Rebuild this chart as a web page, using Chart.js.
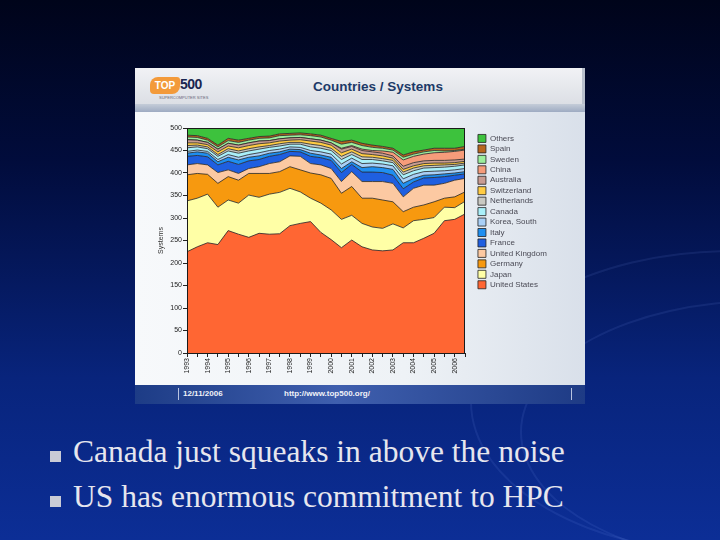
<!DOCTYPE html>
<html>
<head>
<meta charset="utf-8">
<script src="https://cdn.jsdelivr.net/npm/chart.js@4.4.1/dist/chart.umd.min.js"></script>
<style>
  html, body { margin: 0; padding: 0; }
  body {
    width: 720px; height: 540px; overflow: hidden; position: relative;
    background: linear-gradient(180deg, #00041a 0%, #010c3c 30%, #08247c 70%, #0c2e96 100%);
    font-family: "Liberation Sans", Arial, sans-serif;
  }
  .swoosh { position: absolute; border-radius: 50%; border: 2px solid rgba(140,170,255,0.10); }
  #panel {
    position: absolute; left: 135px; top: 68px; width: 450px; height: 336px;
    background: linear-gradient(90deg, #f7f9fb 0%, #eef2f6 60%, #d9e0ea 100%);
    overflow: hidden;
  }
  #head {
    position: absolute; left: 0; top: 0; width: 450px; height: 36px;
    background: linear-gradient(180deg, #f1f2f5 0%, #dcdfe5 100%);
    border-right: 3px solid #b9c0cc; box-sizing: border-box;
  }
  #head .title {
    position: absolute; left: 138px; top: 11px; width: 210px; text-align: center;
    font: bold 13.5px "Liberation Sans", Arial, sans-serif; color: #1d3a68;
  }
  #logo-top {
    position: absolute; left: 15px; top: 9px; width: 30px; height: 17px;
    background: #f39a3a; border-radius: 8px 3px 8px 4px;
    font: bold 10px "Liberation Sans", Arial, sans-serif; color: #fff; text-align: center; line-height: 17px;
  }
  #logo-500 {
    position: absolute; left: 45px; top: 8px;
    font: bold 14px "Liberation Sans", Arial, sans-serif; color: #1a2550; letter-spacing: -0.5px;
  }
  #logo-tag {
    position: absolute; left: 24px; top: 27px; font: 4px "Liberation Sans", Arial, sans-serif; color: #667;
  }
  #stripe {
    position: absolute; left: 0; top: 36px; width: 450px; height: 8px;
    background: linear-gradient(180deg, #c4ccd8 0%, #9eabc2 100%);
  }
  #chart-box { position: absolute; left: 0; top: 44px; width: 450px; height: 273px; }
  #foot {
    position: absolute; left: 0; top: 317px; width: 450px; height: 19px;
    background: linear-gradient(90deg, #1d3c86 0%, #3f5fae 45%, #1e3b85 100%);
    font: bold 8px "Liberation Sans", Arial, sans-serif; color: #f0f2f8;
  }
  #foot span { position: absolute; top: 4px; }
  #foot .bar { position: absolute; top: 3px; width: 1px; height: 12px; background: #b8c4e0; }
  .bullet {
    position: absolute; left: 73px; font: 31.5px "Liberation Serif", "Times New Roman", serif;
    color: #e6e6ee; line-height: 31.5px; white-space: nowrap;
  }
  .sq { position: absolute; left: 50px; width: 11px; height: 11px; background: #c9cbd6; }
</style>
</head>
<body>
<div class="swoosh" style="left:470px; top:250px; width:520px; height:300px;"></div>
<div class="swoosh" style="left:520px; top:300px; width:480px; height:260px;"></div>

<div id="panel">
  <div id="head">
    <div id="logo-top">TOP</div>
    <div id="logo-500">500</div>
    <div id="logo-tag">SUPERCOMPUTER SITES</div>
    <div class="title">Countries / Systems</div>
  </div>
  <div id="stripe"></div>
  <div id="chart-box"><canvas id="chart-paises" width="450" height="273"></canvas></div>
  <div id="foot">
    <div class="bar" style="left:43px"></div>
    <span style="left:48px">12/11/2006</span>
    <span style="left:149px">http://www.top500.org/</span>
    <div class="bar" style="left:436px"></div>
  </div>
</div>

<div class="sq" style="top:451px"></div>
<div class="bullet" style="top:436px">Canada just squeaks in above the noise</div>
<div class="sq" style="top:496px"></div>
<div class="bullet" style="top:481px">US has enormous commitment to HPC</div>

<script>
// Listas: junio y noviembre de cada año, 1993-2006
const periodos = [
  '1993-06','1993-11','1994-06','1994-11','1995-06','1995-11','1996-06','1996-11',
  '1997-06','1997-11','1998-06','1998-11','1999-06','1999-11','2000-06','2000-11',
  '2001-06','2001-11','2002-06','2002-11','2003-06','2003-11','2004-06','2004-11',
  '2005-06','2005-11','2006-06','2006-11'
];
const ticksY = [0, 50, 100, 150, 200, 250, 300, 350, 400, 450, 500];

// Número de sistemas por país
const unitedStates = [225,236,245,241,272,264,257,266,264,265,283,288,292,268,252,234,251,236,229,227,229,245,245,255,266,294,297,309];
const japan        = [113,108,108, 83, 68, 69, 94, 80, 89, 92, 83, 70, 52, 65, 66, 63, 55, 52, 51, 50, 58, 33, 49, 42, 35, 30, 26, 28];
const germany      = [ 58, 55, 44, 53, 52, 51, 48, 53, 46, 46, 48, 49, 56, 63, 70, 58, 64, 56, 64, 63, 49, 36, 30, 32, 35, 20, 24, 21];
const unitedKingdom= [ 22, 22, 21, 24, 15, 15, 11, 15, 22, 22, 24, 30, 21, 22, 22, 26, 33, 37, 37, 41, 41, 33, 42, 44, 37, 33, 37, 30];
const france       = [ 19, 18, 18, 17, 19, 20, 17, 16, 16, 16, 10, 10, 16, 16, 18, 20, 16, 21, 21, 20, 18, 18, 14, 16, 17, 15, 11, 10];
const italy        = [  7,  8,  8,  7,  9, 10,  8,  8,  7,  6,  5,  5,  7,  6,  7,  9,  6, 10, 12, 11, 13, 12,  8,  6,  6,  6,  5,  5];
const koreaSouth   = [  4,  4,  4,  5,  6,  6,  6,  7,  6,  6,  5,  5,  6,  7,  7, 10,  8,  9,  8,  8,  8, 10,  9,  8,  8,  7,  7,  7];
const canada       = [  8,  7,  6,  7,  8,  9,  8,  8,  7,  7,  6,  7,  8,  8,  8, 10,  8,  9,  8,  7,  7,  9,  8,  8,  8,  8,  8,  8];
const netherlands  = [  5,  4,  4,  4,  5,  5,  5,  5,  4,  5,  4,  4,  6,  6,  5,  7,  6,  6,  5,  5,  5,  6,  6,  5,  5,  5,  4,  4];
const switzerland  = [  6,  5,  5,  6,  6,  7,  7,  7,  6,  6,  5,  6,  7,  7,  7,  8,  6,  7,  6,  6,  5,  6,  5,  5,  5,  4,  4,  4];
const australia    = [  7,  6,  5,  6,  6,  6,  6,  6,  5,  5,  5,  5,  5,  5,  5,  8,  6,  7,  6,  6,  5,  7,  7,  6,  6,  6,  6,  5];
const china        = [  0,  0,  0,  0,  0,  0,  0,  0,  0,  0,  0,  0,  0,  0,  0,  2,  2,  3,  3,  5,  8, 14, 14, 15, 17, 18, 19, 20];
const sweden       = [  6,  6,  5,  5,  6,  6,  6,  6,  6,  7,  6,  6,  7,  7,  6,  9,  7,  8,  7,  6,  5,  6,  5,  5,  5,  3,  2,  2];
const spain        = [  4,  4,  4,  4,  5,  5,  4,  4,  4,  4,  4,  4,  4,  4,  4,  6,  5,  5,  5,  4,  4,  5,  5,  4,  5,  6,  5,  6];
const others       = [ 16, 17, 23, 38, 23, 27, 23, 19, 18, 13, 12, 11, 13, 16, 23, 30, 27, 34, 38, 41, 45, 60, 53, 49, 45, 45, 45, 41];

// Series de abajo hacia arriba
const series = [
  { label: 'United States', data: unitedStates, color: '#ff6633' },
  { label: 'Japan', data: japan, color: '#ffffa6' },
  { label: 'Germany', data: germany, color: '#f7990f' },
  { label: 'United Kingdom', data: unitedKingdom, color: '#fcc9a2' },
  { label: 'France', data: france, color: '#1f5fe0' },
  { label: 'Italy', data: italy, color: '#1f8ff0' },
  { label: 'Korea, South', data: koreaSouth, color: '#a9d0f7' },
  { label: 'Canada', data: canada, color: '#aaf0fa' },
  { label: 'Netherlands', data: netherlands, color: '#c9c9c2' },
  { label: 'Switzerland', data: switzerland, color: '#ffcc44' },
  { label: 'Australia', data: australia, color: '#c99c92' },
  { label: 'China', data: china, color: '#f69c7a' },
  { label: 'Sweden', data: sweden, color: '#9cee9c' },
  { label: 'Spain', data: spain, color: '#b8661e' },
  { label: 'Others', data: others, color: '#3dc23d' }
];

const fuente = { family: '"Liberation Sans", Arial, sans-serif', size: 7 };

// Borde del área de trazado y ajuste de la leyenda
const marcoPlugin = {
  id: 'marco',
  beforeInit(chart) {
    const leyenda = chart.legend;
    const fitOriginal = leyenda.fit;
    leyenda.fit = function () { fitOriginal.call(this); this.width = 110; };
  },
  afterLayout(chart) {
    chart.legend.left += 10.5;
    chart.legend.right += 10.5;
    chart.legend.top += 4;
    chart.legend.bottom += 4;
  },
  afterDatasetsDraw(chart) {
    const { ctx, chartArea: a } = chart;
    ctx.save();
    ctx.strokeStyle = '#1a1a1a';
    ctx.lineWidth = 1;
    ctx.strokeRect(a.left + 0.5, a.top + 0.5, a.right - a.left - 1, a.bottom - a.top);
    ctx.restore();
  }
};

new Chart(document.getElementById('chart-paises').getContext('2d'), {
  type: 'line',
  data: {
    labels: periodos,
    datasets: series.map((s, i) => ({
      label: s.label,
      data: s.data,
      backgroundColor: s.color,
      borderColor: '#222222',
      borderWidth: 0.8,
      pointRadius: 0,
      tension: 0,
      fill: i === 0 ? 'origin' : '-1'
    }))
  },
  options: {
    responsive: false,
    animation: false,
    layout: { padding: { left: 22, top: 16, right: 10, bottom: 0 } },
    plugins: {
      tooltip: { enabled: false },
      legend: {
        position: 'right',
        align: 'start',
        reverse: true,
        labels: {
          boxWidth: 8, boxHeight: 8, padding: 2.45,
          color: '#4a4a55',
          font: { family: '"Liberation Sans", Arial, sans-serif', size: 8 }
        }
      }
    },
    scales: {
      x: {
        afterFit(scale) { scale.height = 32; },
        grid: { drawOnChartArea: false, tickLength: 4, color: '#222' },
        border: { color: '#222' },
        ticks: {
          autoSkip: false, maxRotation: 90, minRotation: 90, padding: 1,
          color: '#222', font: fuente,
          callback: (v, i) => (i % 2 === 0 ? periodos[i].slice(0, 4) : '')
        }
      },
      y: {
        stacked: true,
        min: 0, max: 500,
        afterFit(scale) { scale.width = 30; },
        afterBuildTicks(scale) { scale.ticks = ticksY.map(v => ({ value: v })); },
        grid: { drawOnChartArea: false, tickLength: 4, color: '#222' },
        border: { color: '#222' },
        title: { display: true, text: 'Systems', color: '#333', font: fuente, padding: 0 },
        ticks: { padding: 1, color: '#222', font: fuente }
      }
    }
  },
  plugins: [marcoPlugin]
});
</script>
</body>
</html>
